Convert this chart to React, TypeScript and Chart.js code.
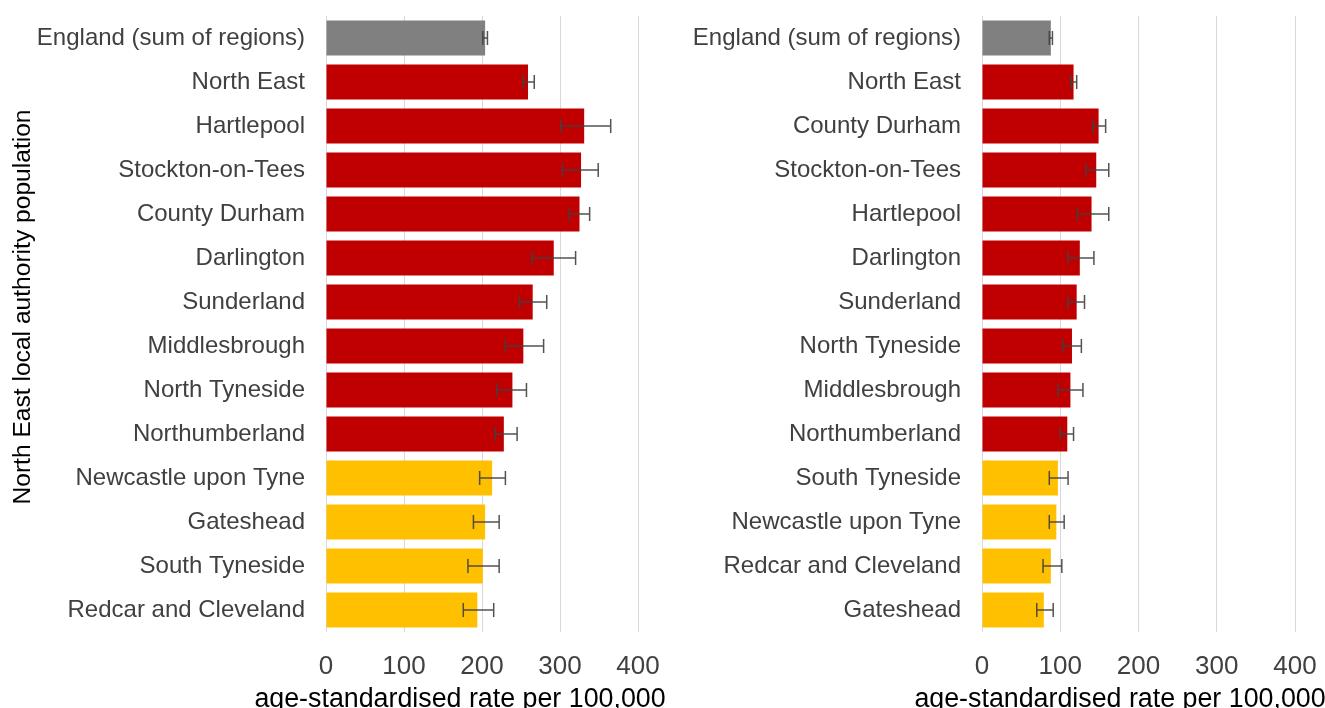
import React, { useEffect, useRef } from "react";
import { Chart, registerables } from "chart.js";

Chart.register(...registerables);

// ---------- data ----------
const leftCategories = [
  "England (sum of regions)",
  "North East",
  "Hartlepool",
  "Stockton-on-Tees",
  "County Durham",
  "Darlington",
  "Sunderland",
  "Middlesbrough",
  "North Tyneside",
  "Northumberland",
  "Newcastle upon Tyne",
  "Gateshead",
  "South Tyneside",
  "Redcar and Cleveland",
];
const leftValues = [204, 259, 331, 327, 325, 292, 265, 253, 239, 228, 213, 204, 201, 194];
const leftLower = [201, 253, 301, 303, 312, 264, 248, 230, 219, 217, 197, 189, 182, 176];
const leftUpper = [207, 267, 365, 349, 338, 320, 283, 279, 257, 245, 230, 222, 222, 215];
const leftGroups = [
  "england", "worse", "worse", "worse", "worse", "worse", "worse", "worse", "worse", "worse",
  "similar", "similar", "similar", "similar",
];

const rightCategories = [
  "England (sum of regions)",
  "North East",
  "County Durham",
  "Stockton-on-Tees",
  "Hartlepool",
  "Darlington",
  "Sunderland",
  "North Tyneside",
  "Middlesbrough",
  "Northumberland",
  "South Tyneside",
  "Newcastle upon Tyne",
  "Redcar and Cleveland",
  "Gateshead",
];
const rightValues = [88, 117, 149, 146, 140, 125, 121, 115, 113, 109, 97, 95, 88, 79];
const rightLower = [86, 114, 142, 133, 122, 110, 110, 103, 97, 100, 86, 86, 78, 70];
const rightUpper = [90, 121, 158, 162, 162, 143, 131, 127, 129, 117, 110, 105, 102, 91];
const rightGroups = [
  "england", "worse", "worse", "worse", "worse", "worse", "worse", "worse", "worse", "worse",
  "similar", "similar", "similar", "similar",
];

const xTicks = [0, 100, 200, 300, 400];
const xTitle = "age-standardised rate per 100,000";
const yTitle = "North East local authority population";

// ---------- styles ----------
const groupColors: Record<string, string> = {
  england: "#808080",
  worse: "#C00000",
  similar: "#FFC000",
};
const FONT = "'Liberation Sans', Arial, sans-serif";

type PanelProps = {
  labels: string[];
  values: number[];
  lower: number[];
  upper: number[];
  groups: string[];
  width: number;
  height: number;
  left: number;
  chartLeft: number;
  chartRight: number;
  showYTitle: boolean;
};

function Panel(p: PanelProps) {
  const ref = useRef<HTMLCanvasElement>(null);

  useEffect(() => {
    if (!ref.current) return;

    const errorBars = {
      id: "errorBars",
      afterDatasetsDraw(chart: any) {
        const ctx = chart.ctx;
        const xs = chart.scales.x;
        const ys = chart.scales.y;
        ctx.save();
        ctx.strokeStyle = "rgba(64,64,64,0.9)";
        ctx.lineWidth = 1.5;
        const cap = 7;
        p.values.forEach((_, i) => {
          const y = ys.getPixelForValue(i);
          const x1 = xs.getPixelForValue(p.lower[i]);
          const x2 = xs.getPixelForValue(p.upper[i]);
          ctx.beginPath();
          ctx.moveTo(x1, y);
          ctx.lineTo(x2, y);
          ctx.moveTo(x1, y - cap);
          ctx.lineTo(x1, y + cap);
          ctx.moveTo(x2, y - cap);
          ctx.lineTo(x2, y + cap);
          ctx.stroke();
        });
        ctx.restore();
      },
    };

    const titles = {
      id: "axisTitles",
      afterDraw(chart: any) {
        const ctx = chart.ctx;
        ctx.save();
        ctx.fillStyle = "#000000";
        ctx.font = `26.8px ${FONT}`;
        ctx.textAlign = "center";
        ctx.textBaseline = "alphabetic";
        ctx.fillText(xTitle, 460, 707);
        if (p.showYTitle) {
          ctx.translate(30, 307);
          ctx.rotate(-Math.PI / 2);
          ctx.font = `24.6px ${FONT}`;
          ctx.textBaseline = "alphabetic";
          ctx.fillText(yTitle, 0, 0);
        }
        ctx.restore();
      },
    };

    const chart = new Chart(ref.current, {
      type: "bar",
      data: {
        labels: p.labels,
        datasets: [
          {
            data: p.values,
            backgroundColor: p.groups.map((g) => groupColors[g]),
            borderWidth: 0,
            barPercentage: 0.8,
            categoryPercentage: 1,
          },
        ],
      },
      options: {
        indexAxis: "y",
        responsive: false,
        animation: false,
        layout: {
          padding: { top: 16, right: p.width - p.chartRight, left: 0, bottom: 0 },
        },
        plugins: {
          legend: { display: false },
          tooltip: { enabled: false },
        },
        scales: {
          x: {
            min: xTicks[0],
            max: xTicks[xTicks.length - 1],
            afterBuildTicks(scale: any) {
              scale.ticks = xTicks.map((v) => ({ value: v }));
            },
            ticks: {
              color: "#404040",
              font: { family: FONT, size: 26 },
              padding: 19,
            },
            grid: { color: "#d9d9d9", lineWidth: 1, drawTicks: false },
            border: { display: false },
            afterFit(scale: any) {
              scale.height = p.height - 632;
              scale.paddingLeft = 0;
              scale.paddingRight = 0;
            },
          },
          y: {
            grid: { display: false, drawTicks: false },
            border: { display: false },
            ticks: {
              color: "#404040",
              font: { family: FONT, size: 24 },
              padding: 21,
              autoSkip: false,
            },
            afterFit(scale: any) {
              scale.width = p.chartLeft;
              scale.paddingTop = 0;
              scale.paddingBottom = 0;
            },
          },
        },
      },
      plugins: [errorBars, titles],
    } as any);

    return () => chart.destroy();
  }, []);

  return (
    <div style={{ position: "absolute", left: p.left, top: 0, width: p.width, height: p.height }}>
      <canvas ref={ref} width={p.width} height={p.height} style={{ width: p.width, height: p.height, display: "block" }} />
    </div>
  );
}

export default function App() {
  return (
    <div style={{ position: "absolute", left: 0, top: 0, width: 1325, height: 708, background: "#ffffff", overflow: "hidden" }}>
      <Panel
        labels={leftCategories}
        values={leftValues}
        lower={leftLower}
        upper={leftUpper}
        groups={leftGroups}
        width={680}
        height={708}
        left={0}
        chartLeft={326}
        chartRight={638}
        showYTitle={true}
      />
      <Panel
        labels={rightCategories}
        values={rightValues}
        lower={rightLower}
        upper={rightUpper}
        groups={rightGroups}
        width={665}
        height={708}
        left={660}
        chartLeft={322}
        chartRight={635}
        showYTitle={false}
      />
    </div>
  );
}
